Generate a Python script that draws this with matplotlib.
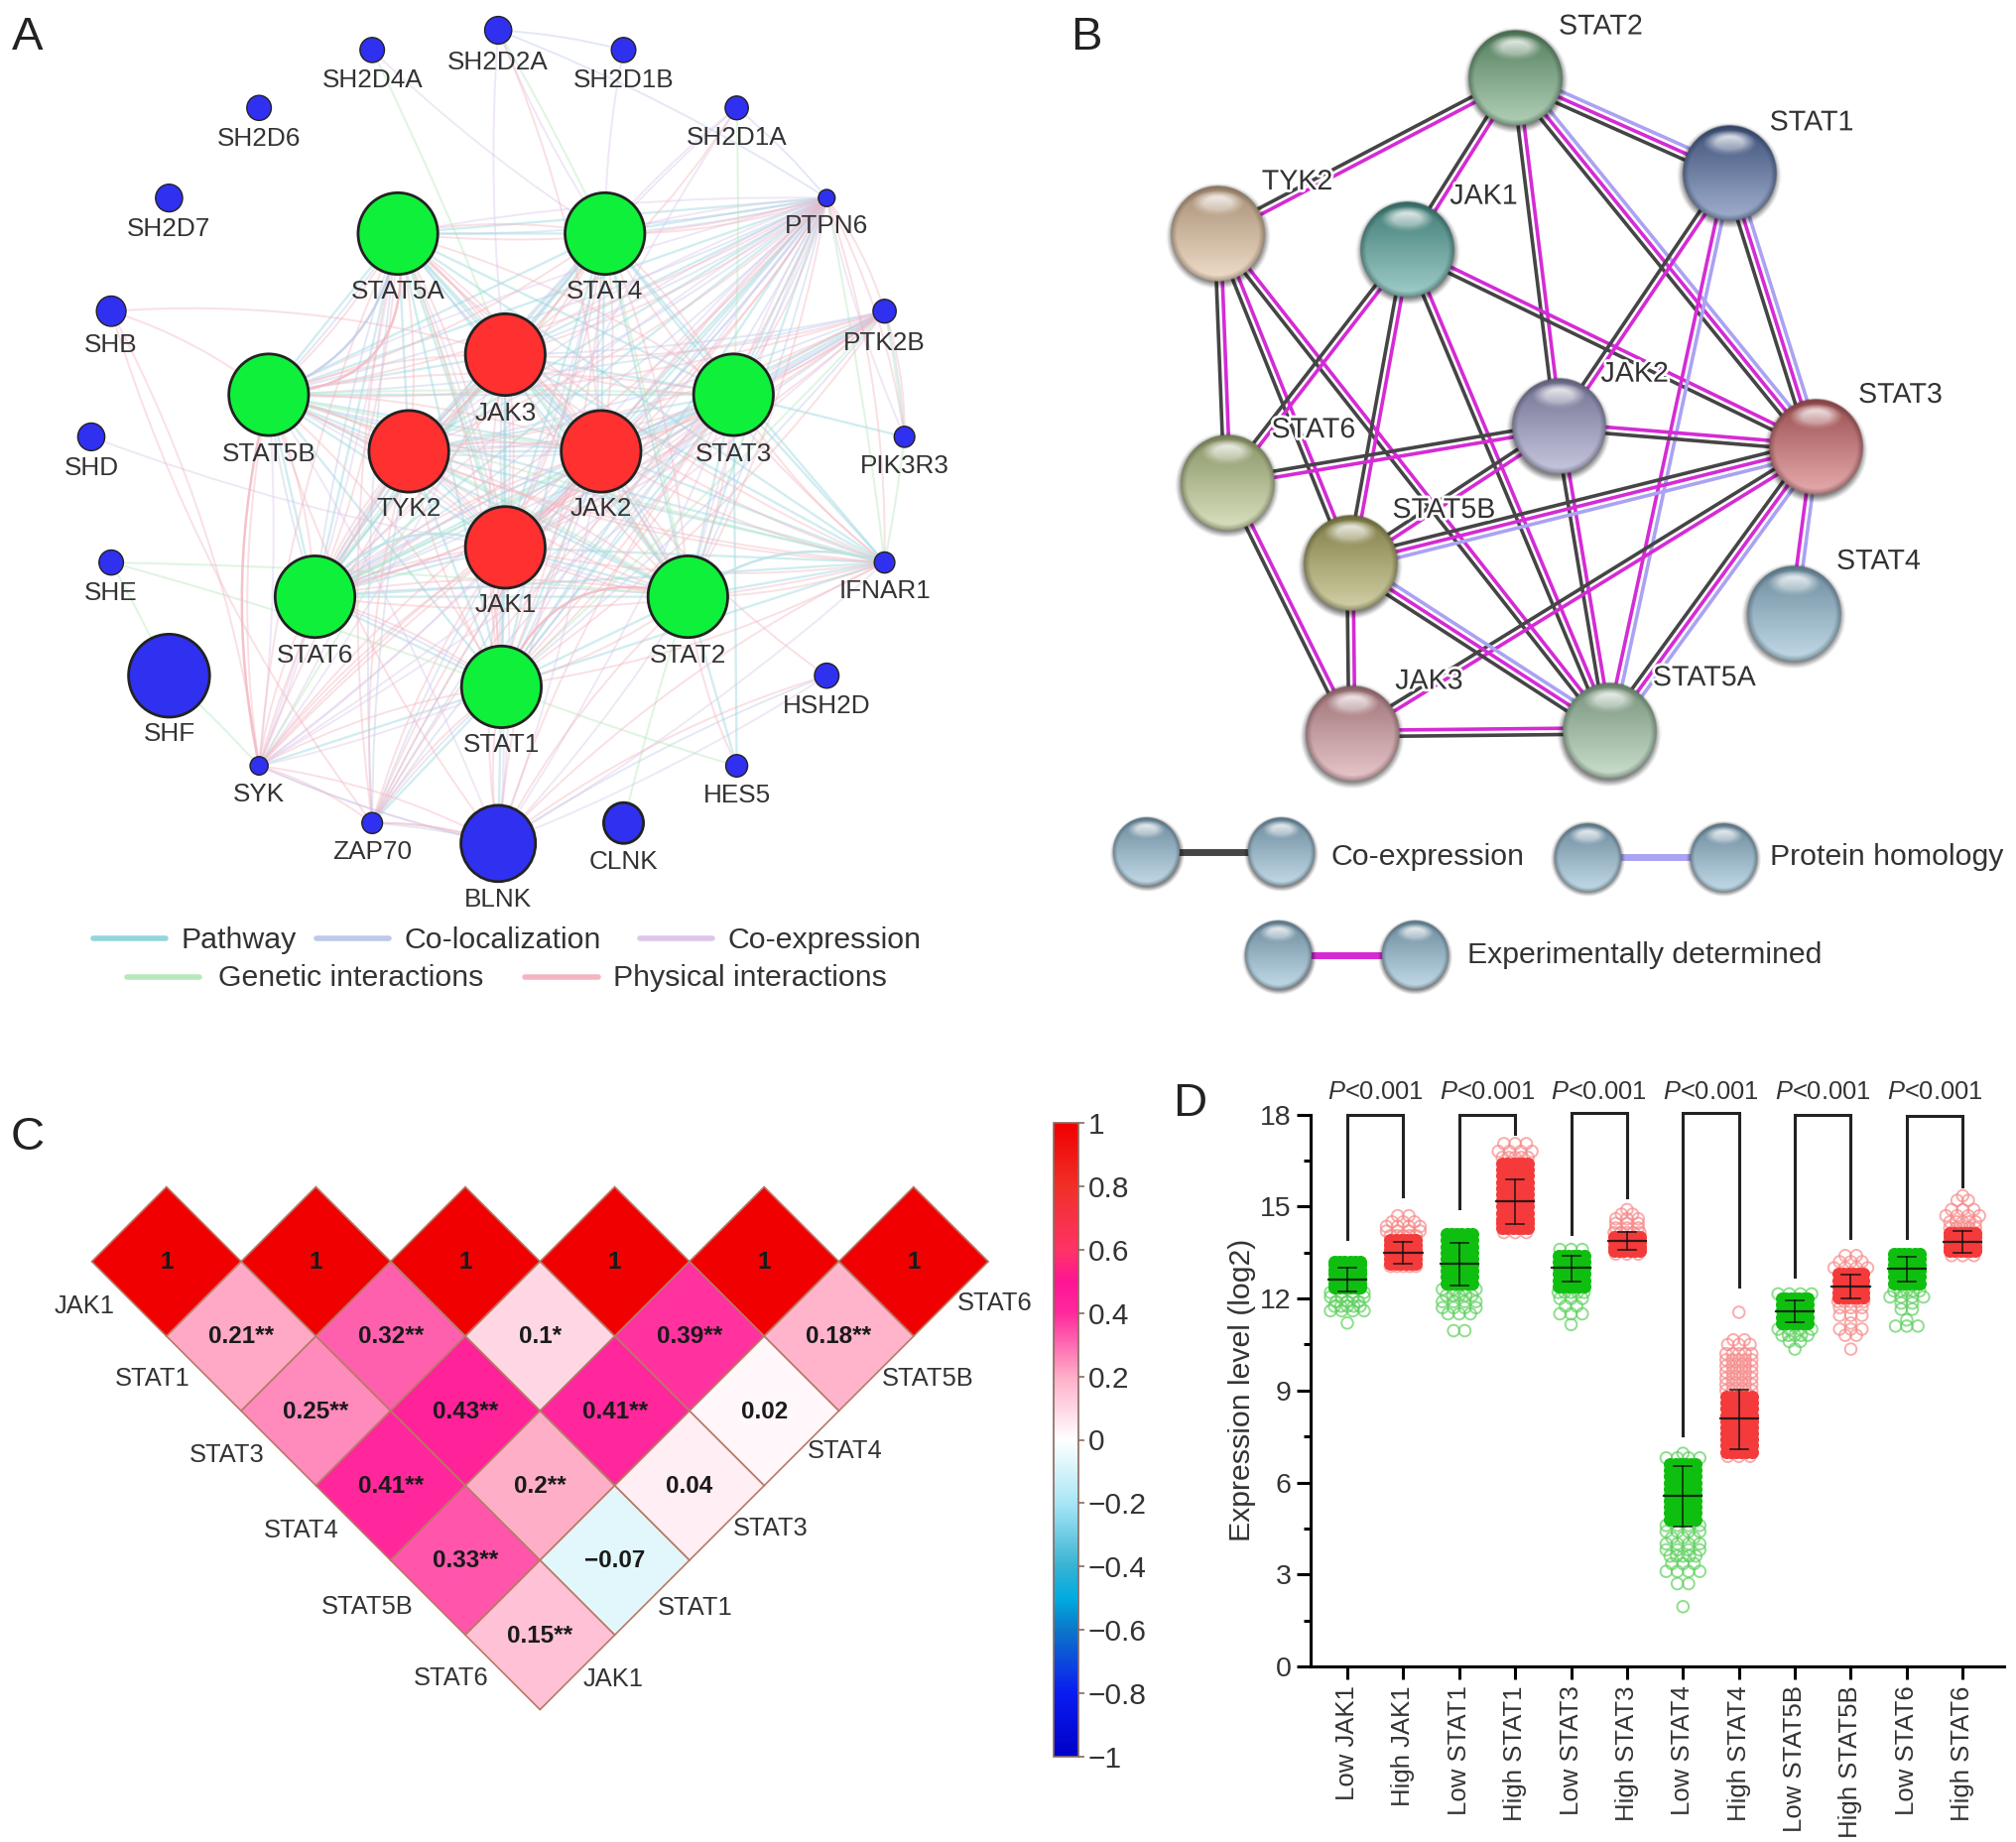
#!/usr/bin/env python3
import numpy as np
from itertools import combinations
import matplotlib
matplotlib.use("Agg")
from matplotlib import pyplot as plt
from matplotlib.patches import Circle, PathPatch, Polygon
from matplotlib.path import Path
from matplotlib.colors import LinearSegmentedColormap, Normalize, to_rgb
from matplotlib.cm import ScalarMappable
import matplotlib.patheffects as pe

plt.rcParams['font.family'] = ['Liberation Sans', 'DejaVu Sans']
plt.rcParams['mathtext.fontset'] = 'custom'
plt.rcParams['mathtext.it'] = 'Liberation Sans:italic'
plt.rcParams['mathtext.rm'] = 'Liberation Sans'

W, H = 2032, 1857
TXT = '#333333'

# ---- panel A : network ----
a_names = ['SH2D2A', 'SH2D4A', 'SH2D1B', 'SH2D6', 'SH2D1A', 'SH2D7', 'PTPN6', 'SHB', 'PTK2B', 'SHD',
           'PIK3R3', 'SHE', 'IFNAR1', 'SHF', 'HSH2D', 'SYK', 'HES5', 'ZAP70', 'CLNK', 'BLNK',
           'STAT5A', 'STAT4', 'STAT5B', 'STAT3', 'STAT6', 'STAT2', 'STAT1', 'JAK3', 'TYK2', 'JAK2', 'JAK1']
a_x = [775, 579, 970, 403, 1146, 263, 1286, 173, 1376, 142, 1407, 173, 1376, 263, 1286, 403, 1146, 579, 970, 775,
       619, 941, 418, 1141, 490, 1070, 780, 786, 636, 935, 786]
a_y = [46, 76, 76, 164, 164, 301, 301, 473, 473, 664, 664, 855, 855, 1027, 1027, 1164, 1164, 1251, 1251, 1282,
       355, 355, 600, 600, 907, 907, 1044, 539, 686, 686, 832]
a_r = [21, 19, 19, 19, 18, 21, 13, 23, 18, 21, 16, 19, 16, 63, 19, 14, 17, 16, 31, 58,
       62, 62, 62, 62, 62, 62, 62, 62, 62, 62, 62]
a_label_y = [95, 122, 122, 211, 210, 349, 344, 525, 521, 712, 709, 902, 899, 1115, 1074, 1207, 1209, 1295, 1310, 1367,
             443, 443, 690, 690, 996, 996, 1132, 628, 774, 774, 920]

a_core = ['STAT5A', 'STAT4', 'STAT5B', 'STAT3', 'STAT6', 'STAT2', 'STAT1', 'JAK3', 'TYK2', 'JAK2', 'JAK1']
ptpn6_partners = a_core + ['PTK2B', 'IFNAR1', 'PIK3R3']
ptk2b_partners = ['STAT5B', 'STAT3', 'JAK3', 'JAK2', 'JAK1', 'TYK2', 'STAT6', 'STAT1', 'PIK3R3']
ifnar1_partners = a_core
syk_partners = ['STAT5A', 'STAT3', 'STAT6', 'JAK1', 'JAK2', 'JAK3', 'TYK2', 'STAT1', 'STAT5B', 'BLNK', 'PTK2B']
zap70_partners = ['STAT3', 'JAK1', 'JAK2', 'STAT1', 'STAT5A', 'TYK2', 'BLNK', 'PTPN6']
blnk_partners = ['JAK1', 'JAK2', 'STAT1', 'STAT2', 'STAT3', 'STAT5B', 'HSH2D', 'IFNAR1']

pathway_pairs = list(combinations(a_core, 2)) + [('PTPN6', n) for n in a_core] + \
    [('IFNAR1', n) for n in a_core] + [('HES5', 'STAT3'), ('HES5', 'STAT2'), ('PTK2B', 'STAT3'), ('PTK2B', 'JAK2'),
                                       ('PIK3R3', 'STAT3'), ('SYK', 'STAT1'), ('ZAP70', 'STAT1'), ('BLNK', 'STAT1')]
coloc_pairs = [('SH2D2A', 'PTPN6'), ('SH2D1A', 'PTPN6'), ('SH2D2A', 'SH2D1B'), ('BLNK', 'HSH2D'), ('BLNK', 'SYK'),
               ('STAT5A', 'STAT5B'), ('STAT1', 'STAT3'), ('JAK1', 'JAK3'), ('TYK2', 'JAK2')] + \
    [('PTPN6', n) for n in a_core] + [('PTK2B', n) for n in ptk2b_partners] + [('ZAP70', n) for n in zap70_partners] + \
    [('STAT6', n) for n in a_core if n != 'STAT6'] + [('JAK2', n) for n in a_core if n != 'JAK2']
coexp_pairs = [('SH2D4A', 'STAT4'), ('SH2D2A', 'JAK3'), ('SH2D2A', 'STAT4'), ('SH2D1B', 'STAT4'), ('SH2D1A', 'STAT4'),
               ('SH2D1A', 'JAK3'), ('SHD', 'JAK1'), ('PTPN6', 'PIK3R3'), ('SH2D1A', 'JAK1')] + \
    [('SYK', n) for n in syk_partners] + [('BLNK', n) for n in blnk_partners] + [('JAK1', n) for n in a_core if n != 'JAK1'] + \
    [('PTPN6', n) for n in a_core]
genetic_pairs = [('SH2D4A', 'JAK3'), ('SH2D2A', 'STAT4'), ('SH2D1A', 'STAT3'), ('SHE', 'STAT2'), ('SHE', 'STAT1'),
                 ('SHE', 'SHF'), ('SHF', 'SYK'), ('CLNK', 'STAT2'), ('HES5', 'STAT1'), ('PTPN6', 'IFNAR1'),
                 ('PTK2B', 'PIK3R3'), ('PIK3R3', 'IFNAR1'), ('STAT5B', 'STAT3'), ('STAT5A', 'JAK1'), ('TYK2', 'STAT2'),
                 ('JAK2', 'STAT5B'), ('STAT6', 'JAK3'), ('STAT4', 'STAT2'), ('SYK', 'STAT4'), ('IFNAR1', 'STAT5B'),
                 ('PTK2B', 'STAT1'), ('JAK3', 'STAT2'), ('JAK2', 'STAT6')]
physical_pairs = list(combinations(a_core, 2)) + [('SHB', 'JAK3'), ('SHB', 'STAT5B'), ('SHB', 'SYK'), ('SH2D2A', 'JAK2'),
                                                  ('SH2D1A', 'JAK3'), ('SYK', 'ZAP70'), ('ZAP70', 'BLNK'),
                                                  ('HSH2D', 'JAK2'), ('HES5', 'STAT2'), ('ZAP70', 'SHB')] + \
    [('PTPN6', n) for n in ptpn6_partners] + [('PTK2B', n) for n in ptk2b_partners] + [('IFNAR1', n) for n in ifnar1_partners] + \
    [('SYK', n) for n in syk_partners] + [('ZAP70', n) for n in zap70_partners] + [('BLNK', n) for n in blnk_partners]

a_arc_pairs = [('STAT5A', 'STAT5B', 0.55, '#f3bcc6'), ('STAT5A', 'STAT5B', 0.3, '#c5cfe8'),
               ('STAT2', 'STAT1', -0.45, '#f3bcc6'), ('STAT6', 'JAK1', 0.35, '#bfe3e8'),
               ('SYK', 'STAT5B', 0.12, '#f3bcc6'), ('STAT2', 'IFNAR1', 0.25, '#bfe3e8')]

a_legend_labels = ['Pathway', 'Co-localization', 'Co-expression', 'Genetic interactions', 'Physical interactions']
a_legend_colors = ['#93d5dc', '#bccae8', '#dcc6ea', '#b5e9bb', '#f3b6c0']
a_legend_x = [145, 492, 995, 197, 817]
a_legend_y = [1427, 1427, 1427, 1485, 1485]

# ---- panel B : STRING network ----
b_names = ['STAT2', 'STAT1', 'TYK2', 'JAK1', 'JAK2', 'STAT3', 'STAT6', 'STAT5B', 'STAT4', 'JAK3', 'STAT5A']
b_x = [789, 1122, 326, 621, 856, 1256, 341, 532, 1222, 535, 935]
b_y = [118, 263, 355, 379, 648, 680, 733, 856, 932, 1115, 1111]
b_colors = ['#74ad80', '#5570a8', '#e6c4a0', '#56a8a0', '#9c9cc8', '#d46a6e', '#bccb8c', '#b0ac60', '#94bfd8', '#d89ca2', '#a2c8a8']
b_label_x = [922, 1250, 450, 740, 975, 1388, 475, 678, 1354, 655, 1083]
b_label_y = [40, 186, 276, 298, 568, 600, 653, 775, 853, 1035, 1030]

b_edges = [('STAT2', 'TYK2', 'ce ex'), ('STAT2', 'JAK1', 'ce ex'), ('STAT2', 'JAK2', 'ce ex'), ('STAT2', 'STAT1', 'ce ex ph'),
           ('STAT2', 'STAT3', 'ce ex ph'), ('TYK2', 'STAT6', 'ce ex'), ('TYK2', 'STAT5B', 'ce ex'), ('TYK2', 'STAT5A', 'ce ex'),
           ('JAK1', 'STAT6', 'ce ex'), ('JAK1', 'STAT5B', 'ce ex'), ('JAK1', 'STAT5A', 'ce ex'), ('JAK1', 'STAT3', 'ce ex'),
           ('STAT1', 'JAK2', 'ce ex'), ('STAT1', 'STAT3', 'ce ex ph'), ('STAT1', 'STAT5A', 'ex ph'), ('JAK2', 'STAT3', 'ce ex'),
           ('JAK2', 'STAT6', 'ce ex'), ('JAK2', 'STAT5B', 'ce ex'), ('JAK2', 'STAT5A', 'ce ex'), ('STAT3', 'STAT5B', 'ce ex ph'),
           ('STAT3', 'JAK3', 'ce ex'), ('STAT3', 'STAT5A', 'ce ex ph'), ('STAT3', 'STAT4', 'ex ph'), ('STAT6', 'JAK3', 'ce ex'),
           ('STAT5B', 'JAK3', 'ce ex'), ('STAT5B', 'STAT5A', 'ce ex ph'), ('JAK3', 'STAT5A', 'ce ex')]
b_edge_colors = {'ce': '#454545', 'ex': '#d52bd5', 'ph': '#aaa2f2'}

b_legend_labels = ['Co-expression', 'Protein homology', 'Experimentally determined']
b_legend_kind = ['ce', 'ph', 'ex']
b_legend_x1 = [216, 902, 421]
b_legend_x2 = [425, 1113, 633]
b_legend_y = [1295, 1303, 1452]
b_legend_tx = [502, 1185, 714]
b_legend_ty = [1303, 1303, 1452]

# ---- panel C : correlation triangle ----
c_row0 = [1, 1, 1, 1, 1, 1]
c_row1 = [0.21, 0.32, 0.1, 0.39, 0.18]
c_row2 = [0.25, 0.43, 0.41, 0.02]
c_row3 = [0.41, 0.2, 0.04]
c_row4 = [0.33, -0.07]
c_row5 = [0.15]
c_text1 = ['0.21**', '0.32**', '0.1*', '0.39**', '0.18**']
c_text2 = ['0.25**', '0.43**', '0.41**', '0.02']
c_text3 = ['0.41**', '0.2**', '0.04']
c_text4 = ['0.33**', '\u22120.07']
c_text5 = ['0.15**']
c_left = ['JAK1', 'STAT1', 'STAT3', 'STAT4', 'STAT5B', 'STAT6']
c_right = ['STAT6', 'STAT5B', 'STAT4', 'STAT3', 'STAT1', 'JAK1']
c_left_dy = [0.6, 0.57, 0.59, 0.6, 0.63, 0.58]
c_right_dy = [0.56, 0.57, 0.54, 0.58, 0.64, 0.59]
cb_stops = [-1, -0.8, -0.6, -0.5, -0.4, -0.2, 0, 0.2, 0.4, 0.5, 0.6, 0.8, 1]
cb_colors = ['#0000c8', '#0a1cf0', '#0c78c8', '#00ace0', '#38b2d2', '#a8e6f6', '#ffffff',
             '#ffaec8', '#ff2a9c', '#ff1494', '#ff3366', '#f03028', '#f00000']

# ---- panel D : expression swarm ----
d_labels = ['Low JAK1', 'High JAK1', 'Low STAT1', 'High STAT1', 'Low STAT3', 'High STAT3',
            'Low STAT4', 'High STAT4', 'Low STAT5B', 'High STAT5B', 'Low STAT6', 'High STAT6']
d_mean = [12.63, 13.5, 13.12, 15.18, 13.0, 13.88, 5.55, 8.09, 11.58, 12.39, 12.96, 13.85]
d_upper = [13.0, 13.83, 13.8, 15.9, 13.4, 14.17, 6.53, 9.03, 11.95, 12.79, 13.35, 14.2]
d_lower = [12.24, 13.15, 12.43, 14.44, 12.56, 13.6, 4.57, 7.1, 11.23, 12.0, 12.55, 13.5]

low_jak1_y = [11.2, 11.6, 11.75, 11.9, 12.05, 12.2, 12.35, 12.5, 12.65, 12.8, 12.95, 13.1, 13.2]
low_jak1_n = [1, 4, 5, 3, 4, 4, 6, 6, 7, 7, 7, 7, 6]
high_jak1_y = [13.05, 13.15, 13.3, 13.45, 13.6, 13.75, 13.9, 14.05, 14.2, 14.35, 14.5, 14.7]
high_jak1_n = [5, 6, 7, 7, 7, 7, 6, 5, 4, 4, 3, 2]
low_stat1_y = [10.95, 11.5, 11.7, 11.9, 12.1, 12.3, 12.5, 12.7, 12.9, 13.1, 13.3, 13.5, 13.7, 13.9, 14.1]
low_stat1_n = [2, 3, 4, 4, 5, 4, 6, 6, 6, 7, 7, 7, 7, 7, 6]
high_stat1_y = [14.15, 14.3, 14.45, 14.6, 14.8, 15.0, 15.2, 15.4, 15.6, 15.8, 16.0, 16.2, 16.4, 16.6, 16.8, 17.05]
high_stat1_n = [3, 6, 6, 7, 7, 7, 7, 7, 7, 7, 7, 7, 6, 5, 4, 3]
low_stat3_y = [11.15, 11.5, 11.75, 12.0, 12.2, 12.4, 12.6, 12.8, 13.0, 13.2, 13.4, 13.6]
low_stat3_n = [1, 3, 2, 3, 5, 6, 6, 7, 7, 7, 6, 3]
high_stat3_y = [13.45, 13.55, 13.7, 13.85, 14.0, 14.15, 14.3, 14.45, 14.6, 14.75, 14.9]
high_stat3_n = [3, 6, 7, 7, 7, 5, 3, 3, 3, 2, 1]
low_stat4_y = [1.95, 2.7, 3.1, 3.35, 3.6, 3.8, 4.0, 4.2, 4.4, 4.6, 4.8, 5.0, 5.2, 5.4, 5.6, 5.8, 6.0, 6.2, 6.4, 6.6, 6.8, 6.95]
low_stat4_n = [1, 2, 4, 3, 5, 4, 4, 3, 4, 4, 6, 6, 6, 6, 6, 6, 6, 6, 6, 6, 4, 1]
high_stat4_y = [6.85, 7.0, 7.2, 7.4, 7.6, 7.8, 8.0, 8.2, 8.4, 8.6, 8.8, 9.0, 9.2, 9.4, 9.6, 9.8, 10.0, 10.2, 10.5, 10.65, 11.55]
high_stat4_n = [3, 6, 7, 7, 7, 7, 7, 7, 7, 6, 6, 5, 5, 5, 5, 5, 5, 5, 3, 2, 1]
low_stat5b_y = [10.35, 10.6, 10.8, 11.0, 11.2, 11.4, 11.6, 11.8, 12.0, 12.15]
low_stat5b_n = [1, 2, 5, 4, 6, 6, 7, 7, 7, 4]
high_stat5b_y = [10.35, 10.8, 11.0, 11.2, 11.45, 11.7, 11.9, 12.05, 12.2, 12.4, 12.6, 12.8, 13.0, 13.2, 13.4]
high_stat5b_n = [1, 2, 3, 1, 3, 3, 5, 6, 7, 7, 7, 6, 4, 3, 2]
low_stat6_y = [11.1, 11.3, 11.65, 11.85, 12.05, 12.25, 12.5, 12.7, 12.9, 13.1, 13.3, 13.45]
low_stat6_n = [3, 1, 2, 2, 4, 5, 6, 6, 7, 7, 7, 6]
high_stat6_y = [13.4, 13.55, 13.7, 13.85, 14.0, 14.15, 14.3, 14.5, 14.7, 14.9, 15.2, 15.35]
high_stat6_n = [3, 6, 7, 7, 7, 6, 5, 5, 4, 3, 2, 1]

d_levels = [low_jak1_y, high_jak1_y, low_stat1_y, high_stat1_y, low_stat3_y, high_stat3_y,
            low_stat4_y, high_stat4_y, low_stat5b_y, high_stat5b_y, low_stat6_y, high_stat6_y]
d_counts = [low_jak1_n, high_jak1_n, low_stat1_n, high_stat1_n, low_stat3_n, high_stat3_n,
            low_stat4_n, high_stat4_n, low_stat5b_n, high_stat5b_n, low_stat6_n, high_stat6_n]

d_br_top = [18, 18, 18.05, 18.05, 18, 17.94]
d_br_left = [13.93, 14.95, 14.1, 7.54, 12.7, 13.96]
d_br_right = [15.35, 17.36, 15.3, 12.4, 13.96, 15.67]


def axes_px(x0, y0, x1, y1):
    # axes from image pixels (y counted from the top)
    return fig.add_axes([x0 / W, 1 - y1 / H, (x1 - x0) / W, (y1 - y0) / H])


def layout_axes(x0, y0, x1, y1, xmax, ymax):
    ax = axes_px(x0, y0, x1, y1)
    ax.set_xlim(0, xmax)
    ax.set_ylim(ymax, 0)
    ax.axis('off')
    return ax


def curve(ax, p, q, rad, color, lw, alpha=0.42):
    mx, my = (p[0] + q[0]) / 2, (p[1] + q[1]) / 2
    cx = mx + rad * (q[1] - p[1])
    cy = my - rad * (q[0] - p[0])
    path = Path([p, (cx, cy), q], [Path.MOVETO, Path.CURVE3, Path.CURVE3])
    ax.add_patch(PathPatch(path, fill=False, edgecolor=color, lw=lw, alpha=alpha, zorder=1))


def draw_ball(ax, x, y, r, color, zorder=5):
    # glossy sphere: shadow, vertical shading, dark rim and a soft pale highlight
    n = 120
    v, u = np.mgrid[-1.15:1.15:n * 1j, -1.15:1.15:n * 1j]
    d = np.sqrt(u ** 2 + v ** 2)
    base = np.array(to_rgb(color))
    t = np.clip((v + 1) / 2, 0, 1)[..., None]
    dark = base * 0.72
    light = base + (1 - base) * 0.45
    rgb = dark * (1 - t) + light * t
    rim = np.clip((d - 0.86) / 0.14, 0, 1)[..., None]
    rgb = rgb * (1 - 0.55 * rim) + base * 0.42 * 0.55 * rim
    hl = np.clip(1 - np.sqrt((u / 0.56) ** 2 + ((v + 0.62) / 0.27) ** 2), 0, 1)
    hl = np.clip(hl * 2.0, 0, 1) * np.clip((0.36 - (v + 0.62)) * 1.6, 0, 0.88)
    hl = hl[..., None]
    rgb = rgb * (1 - hl) + hl
    alpha = np.clip((1.0 - d) * 40, 0, 1)
    img = np.dstack([np.clip(rgb, 0, 1), alpha])
    e = 1.15 * r
    # y axis runs downward in these layout axes
    sv, su = np.mgrid[-1.2:1.2:60j, -1.2:1.2:60j]
    sd = np.sqrt(su ** 2 + (sv - 0.06) ** 2)
    shadow = np.zeros((60, 60, 4))
    shadow[..., 3] = np.clip((1.1 - sd) * 3.5, 0, 0.5)
    ax.imshow(shadow, extent=[x - 1.2 * r, x + 1.2 * r, y + 1.2 * r, y - 1.2 * r], origin='upper',
              zorder=zorder, interpolation='bilinear', aspect='auto')
    ax.imshow(img, extent=[x - e, x + e, y + e, y - e], origin='upper',
              zorder=zorder + 0.1, interpolation='bilinear', aspect='auto')


fig = plt.figure(figsize=(W / 100, H / 100), dpi=100, facecolor='white')

# panel A
ax = layout_axes(0, 0, 1016, 1040, 1568, 1568)
pos = {n: (x, y) for n, x, y in zip(a_names, a_x, a_y)}
pair_sets = [(pathway_pairs, a_legend_colors[0], 0.0, 1.7), (coloc_pairs, a_legend_colors[1], 0.05, 1.4),
             (coexp_pairs, a_legend_colors[2], -0.05, 1.4), (genetic_pairs, a_legend_colors[3], 0.02, 1.5),
             (physical_pairs, a_legend_colors[4], 0.09, 1.4)]
for pairs, col, rad, lw in pair_sets:
    for s, t in pairs:
        if s != t:
            curve(ax, pos[s], pos[t], rad, col, lw)
for s, t, rad, col in a_arc_pairs:
    curve(ax, pos[s], pos[t], rad, col, 1.8, 0.9)
for n, x, y, r, ly in zip(a_names, a_x, a_y, a_r, a_label_y):
    col = '#3030f0'
    if n.startswith('JAK') or n == 'TYK2':
        col = '#ff3030'
    elif n.startswith('STAT'):
        col = '#0ff03a'
    ax.add_patch(Circle((x, y), r, facecolor=col, edgecolor='#222222', lw=2 if r > 30 else 1, zorder=5))
    ax.text(x, ly, n, ha='center', va='center', fontsize=18.8, color=TXT, zorder=6)
for lab, col, x, y in zip(a_legend_labels, a_legend_colors, a_legend_x, a_legend_y):
    ax.plot([x, x + 113], [y, y], color=col, lw=4, solid_capstyle='round')
    ax.text(x + (137 if lab != 'Genetic interactions' else 143), y + 2, lab, ha='left', va='center', fontsize=21.8, color=TXT)

# panel B
ax = layout_axes(1016, 0, 2032, 1040, 1568, 1568)
bpos = {n: (x, y) for n, x, y in zip(b_names, b_x, b_y)}
for s, t, kinds in b_edges:
    p, q = np.array(bpos[s], float), np.array(bpos[t], float)
    nrm = np.array([q[1] - p[1], p[0] - q[0]])
    nrm = nrm / np.hypot(*nrm)
    kinds = kinds.split()
    for i, k in enumerate(kinds):
        off = (i - (len(kinds) - 1) / 2) * 9.5
        ax.plot([p[0] + nrm[0] * off, q[0] + nrm[0] * off], [p[1] + nrm[1] * off, q[1] + nrm[1] * off],
                color=b_edge_colors[k], lw=2.6, zorder=1, solid_capstyle='butt')
for n, x, y, c in zip(b_names, b_x, b_y, b_colors):
    draw_ball(ax, x, y, 74, c)
for n, x, y in zip(b_names, b_label_x, b_label_y):
    ax.text(x, y, n, ha='center', va='center', fontsize=20.6, color=TXT, zorder=8,
            path_effects=[pe.withStroke(linewidth=4, foreground='white')])
for lab, k, x1, x2, y, tx, ty in zip(b_legend_labels, b_legend_kind, b_legend_x1, b_legend_x2, b_legend_y,
                                     b_legend_tx, b_legend_ty):
    ax.plot([x1, x2], [y, y], color=b_edge_colors[k], lw=5, zorder=1, solid_capstyle='butt')
    draw_ball(ax, x1, y, 53, '#94bfd8')
    draw_ball(ax, x2, y, 53, '#94bfd8')
    ax.text(tx, ty, lab, ha='left', va='center', fontsize=21.8, color=TXT)
ax.set_xlim(0, 1568)
ax.set_ylim(1568, 0)

# panel C, one unit is half a diamond diagonal
unit = 75.3
c_x0, c_y0 = 167.8, 1271.8
ax = axes_px(0, 1180, 1050, 1760)
ax.set_xlim(-c_x0 / unit, (1050 - c_x0) / unit)
ax.set_ylim(-(1760 - c_y0) / unit, (c_y0 - 1180) / unit)
ax.axis('off')
cmap = LinearSegmentedColormap.from_list('corr', [((s + 1) / 2, c) for s, c in zip(cb_stops, cb_colors)], N=256)
norm = Normalize(-1, 1)
c_rows = [c_row0, c_row1, c_row2, c_row3, c_row4, c_row5]
c_texts = [[str(v) for v in c_row0], c_text1, c_text2, c_text3, c_text4, c_text5]
for r, (vals, texts) in enumerate(zip(c_rows, c_texts)):
    for i, (v, s) in enumerate(zip(vals, texts)):
        cx, cy = 2 * i + r, -r
        ax.add_patch(Polygon([(cx - 1, cy), (cx, cy + 1), (cx + 1, cy), (cx, cy - 1)], closed=True,
                             facecolor=cmap(norm(v)), edgecolor='#b87a66', lw=1.2))
        ax.text(cx, cy - 0.01, s, ha='center', va='center', fontsize=17.5, fontweight='bold', color='#1a1a1a')
    ax.text(r - 0.69, -r - c_left_dy[r], c_left[r], ha='right', va='center', fontsize=18.4, color=TXT)
    ax.text(10 - r + 0.58, -r - c_right_dy[r], c_right[r], ha='left', va='center', fontsize=18.4, color=TXT)

cax = axes_px(1062, 1132, 1087, 1771)
cb = fig.colorbar(ScalarMappable(norm=norm, cmap=cmap), cax=cax)
cb.set_ticks(np.round(np.arange(-1, 1.01, 0.2), 1))
cb.set_ticklabels(['\u22121', '\u22120.8', '\u22120.6', '\u22120.4', '\u22120.2', '0', '0.2', '0.4', '0.6', '0.8', '1'])
cb.ax.tick_params(labelsize=21.5, length=4, width=1.2, color='#8a6a60', labelcolor=TXT, pad=3)
cb.outline.set_edgecolor('#8a6a60')
cb.outline.set_linewidth(1.2)

# panel D
ax = axes_px(1321, 1123.6, 2020, 1680)
ax.set_xlim(-0.656, 11.74)
ax.set_ylim(0, 18)
ax.patch.set_alpha(0)
for i, (levels, counts) in enumerate(zip(d_levels, d_counts)):
    col = '#0fbf0f' if i % 2 == 0 else '#f43a3a'
    pale = '#5fd05f' if i % 2 == 0 else '#f78a8a'
    for y, n in zip(levels, counts):
        sp = 0.46 / (n - 1) if n >= 5 else 0.2
        xs = i + (np.arange(n) - (n - 1) / 2) * sp
        if n >= 6:
            ax.scatter(xs, [y] * n, s=70, facecolors=col, edgecolors=col, linewidths=1.0, zorder=2, clip_on=False)
        else:
            ax.scatter(xs, [y] * n, s=70, facecolors='none', edgecolors=pale, linewidths=1.4, alpha=0.7, zorder=1.5, clip_on=False)
    ax.plot([i - 0.34, i + 0.34], [d_mean[i], d_mean[i]], color='#111111', lw=1.6, zorder=4, alpha=0.85)
    ax.plot([i, i], [d_lower[i], d_upper[i]], color='#111111', lw=1.2, zorder=4, alpha=0.85)
    for e in (d_lower[i], d_upper[i]):
        ax.plot([i - 0.16, i + 0.16], [e, e], color='#111111', lw=1.2, zorder=4, alpha=0.85)
for b in range(6):
    xl, xr = 2 * b, 2 * b + 1
    ax.plot([xl, xl, xr, xr], [d_br_left[b], d_br_top[b], d_br_top[b], d_br_right[b]], color='#222222', lw=2.2,
            clip_on=False, zorder=3, solid_joinstyle='miter')
    ax.text(b * 2 + 0.5, 18.72, r'$\mathit{P}$<0.001', ha='center', va='center', fontsize=18.4, color=TXT)
ax.spines['top'].set_visible(False)
ax.spines['right'].set_visible(False)
ax.spines['left'].set_linewidth(2.2)
ax.spines['bottom'].set_linewidth(2.2)
ax.set_xticks(range(12))
ax.set_xticklabels(d_labels, rotation=90, fontsize=18.5, color=TXT)
ax.set_yticks([0, 3, 6, 9, 12, 15, 18])
ax.set_yticks(np.arange(0, 18.1, 1.5), minor=True)
ax.tick_params(axis='y', which='major', labelsize=20.5, length=10, width=2.2, labelcolor=TXT, pad=4)
ax.tick_params(axis='y', which='minor', length=5, width=2.2)
ax.tick_params(axis='x', length=9, width=2.2, pad=5)
ax.set_ylabel('Expression level (log2)', fontsize=21.8, color=TXT, labelpad=3)

# panel letters
for letter, x, y in [('A', 28, 38), ('B', 1095, 38), ('C', 28, 1147), ('D', 1199, 1113)]:
    fig.text(x / W, 1 - y / H, letter, ha='center', va='center', fontsize=34, color='#222222')

fig.savefig('out.png', dpi=100)
